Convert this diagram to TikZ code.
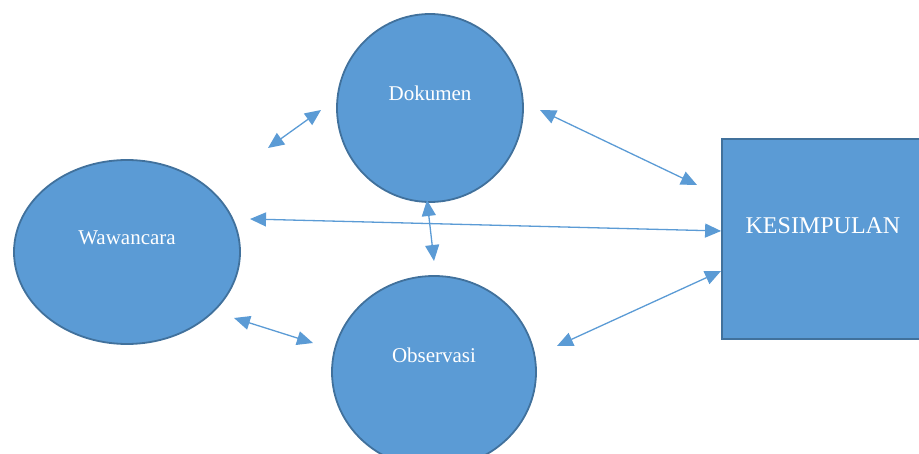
\documentclass[tikz,border=0pt]{standalone}
\usepackage{fontspec}
\setmainfont{Liberation Serif}
\usetikzlibrary{shapes.geometric,arrows.meta}

\definecolor{bubblecolor}{RGB}{91,155,213}
\definecolor{rimcolor}{RGB}{65,113,156}

\begin{document}
\begin{tikzpicture}[x=1pt,y=-1pt,
    bubble/.style={ellipse, draw=rimcolor, line width=1.8pt, fill=bubblecolor, inner sep=0pt},
    boxshape/.style={rectangle, draw=rimcolor, line width=1.8pt, fill=bubblecolor, inner sep=0pt},
    caption/.style={text=white, font=\fontsize{21}{25}\selectfont},
    link/.style={draw=bubblecolor, line width=1.3pt,
      {Triangle[length=16pt,width=14pt]}-{Triangle[length=16pt,width=14pt]}}]
  % Fix the page size
  \useasboundingbox (0,0) rectangle (919,454);
  \clip (0,0) rectangle (919,454);

  % The three sources and the conclusion
  \node[bubble, minimum width=226, minimum height=184] (wawancara) at (127,252) {};
  \node[bubble, minimum width=186, minimum height=188] (dokumen) at (430,108) {};
  \node[bubble, minimum width=204, minimum height=192] (observasi) at (434,372) {};
  \node[boxshape, minimum width=202, minimum height=200] (kesimpulan) at (823,239) {};

  % Labels
  \node[caption] (wawancara-text) at (127,238) {Wawancara};
  \node[caption] (dokumen-text) at (430,93) {Dokumen};
  \node[caption] (observasi-text) at (434,355) {Observasi};
  \node[caption, font=\fontsize{24}{28}\selectfont] (kesimpulan-text) at (823,226) {KESIMPULAN};

  % Arrow ends
  \coordinate (wd-a) at (268,148);
  \coordinate (wd-b) at (321,110);
  \coordinate (dk-a) at (540,110);
  \coordinate (dk-b) at (697,185);
  \coordinate (wk-a) at (250,219);
  \coordinate (wk-b) at (kesimpulan.west |- 0,231);
  \coordinate (do-a) at (427,200);
  \coordinate (do-b) at (434,261);
  \coordinate (wo-a) at (234,318);
  \coordinate (wo-b) at (313,343);
  \coordinate (ok-a) at (557,346);
  \coordinate (ok-b) at (721,271);

  % Double arrows
  \draw[link] (wd-a) -- (wd-b);
  \draw[link] (dk-a) -- (dk-b);
  \draw[link] (wk-a) -- (wk-b);
  \draw[link] (do-a) -- (do-b);
  \draw[link] (wo-a) -- (wo-b);
  \draw[link] (ok-a) -- (ok-b);
\end{tikzpicture}
\end{document}
